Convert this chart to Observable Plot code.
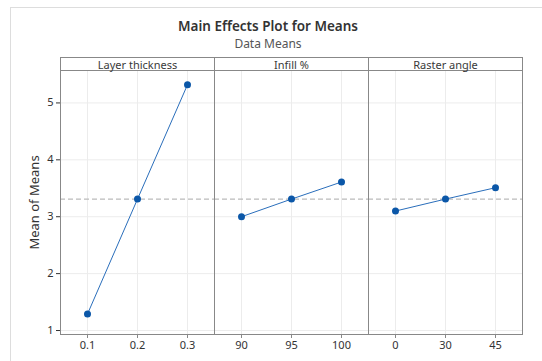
<!DOCTYPE html>
<html><head><meta charset="utf-8">
<script src="https://cdn.jsdelivr.net/npm/d3@7"></script>
<script src="https://cdn.jsdelivr.net/npm/@observablehq/plot@0.6"></script>
<style>
body{margin:0;background:#fff;font-family:"Noto Sans","Open Sans",sans-serif;}
#wrap{position:relative;width:542px;height:361px;overflow:hidden;}
#border{position:absolute;left:10px;top:7px;right:-5px;bottom:-5px;border-left:1px solid #ddd;border-top:1px solid #ddd;}
#title{position:absolute;left:0;width:536px;top:17px;text-align:center;font-size:13.5px;color:#333;font-weight:600;}
#sub{position:absolute;left:0;width:536px;top:35px;text-align:center;font-size:12px;color:#555;}
#chart{position:absolute;left:0;top:0;}
#chart svg text{font-family:"Noto Sans","Open Sans",sans-serif;}
</style></head>
<body><div id="wrap"><div id="border"></div><div id="chart"></div>
<div id="title">Main Effects Plot for Means</div><div id="sub">Data Means</div></div>
<script>
const factors = ["Layer thickness", "Infill %", "Raster angle"];
const levelsLayer = ["0.1", "0.2", "0.3"];
const levelsInfill = ["90", "95", "100"];
const levelsRaster = ["0", "30", "45"];
const meansLayer = [1.29, 3.31, 5.32];
const meansInfill = [3.00, 3.31, 3.61];
const meansRaster = [3.10, 3.31, 3.51];
const grandMean = 3.31;
const yTicks = [1, 2, 3, 4, 5];

const levelSets = [levelsLayer, levelsInfill, levelsRaster];
const meanSets = [meansLayer, meansInfill, meansRaster];
const rows = [];
factors.forEach((f, i) => levelSets[i].forEach((lv, j) => rows.push({factor: f, idx: j, label: lv, mean: meanSets[i][j]})));

const chart = Plot.plot({
  width: 542, height: 361,
  marginLeft: 59, marginRight: 20, marginTop: 70, marginBottom: 27,
  fx: {domain: factors, padding: 0, paddingOuter: 0},
  x: {type: "point", domain: [0, 1, 2], padding: 0.52},
  y: {domain: [0.93, 5.57]},
  style: {fontSize: "11px", color: "#333", background: "transparent"},
  marks: [
    Plot.gridX([0, 1, 2], {stroke: "#ececec", strokeOpacity: 1}),
    Plot.gridY(yTicks, {stroke: "#ececec", strokeOpacity: 1}),
    Plot.ruleY([grandMean], {stroke: "#bbb", strokeDasharray: "5,3", strokeWidth: 1.2}),
    Plot.frame({stroke: "#888", insetTop: -13}),
    Plot.frame({stroke: "#888", anchor: "top"}),
    Plot.axisFx({anchor: "top", label: null, tickSize: 0, tickPadding: 2, fontSize: 11, fill: "#3a3a3a"}),
    Plot.axisY(yTicks, {tickSize: 4, tickPadding: 3, tickFormat: d => String(d), label: "Mean of Means", labelAnchor: "center", labelArrow: "none", labelOffset: 31, fill: "#333"}),
    Plot.axisX([0, 1, 2], {tickSize: 4, tickFormat: () => "", label: null, stroke: "#888"}),
    Plot.text(rows, {fx: "factor", x: "idx", text: "label", frameAnchor: "bottom", dy: 14, fill: "#333", fontSize: 11}),
    Plot.line(rows, {fx: "factor", x: "idx", y: "mean", stroke: "#2a6ebb", strokeWidth: 1}),
    Plot.dot(rows, {fx: "factor", x: "idx", y: "mean", fill: "#0b57a8", r: 3.5})
  ]
});
document.getElementById("chart").appendChild(chart);
const yl = chart.querySelector('g[aria-label="y-axis label"] text');
if (yl) yl.style.fontSize = "13px";
</script></body></html>
